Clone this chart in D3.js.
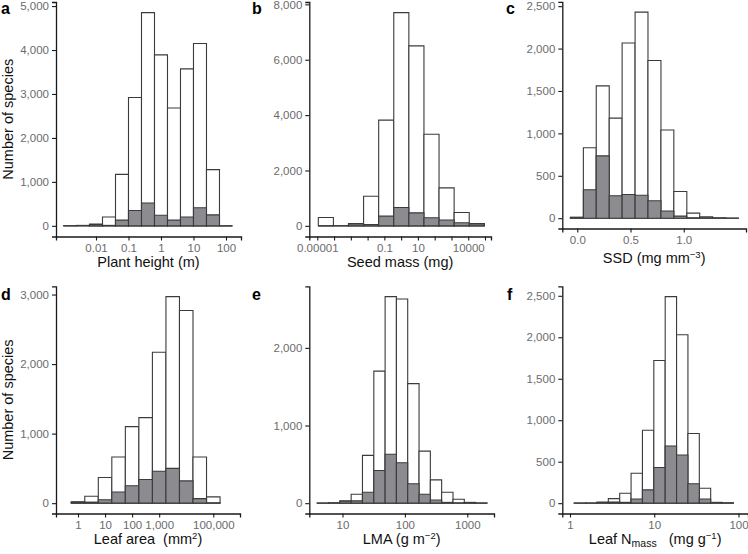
<!DOCTYPE html>
<html>
<head>
<meta charset="utf-8">
<script src="https://cdnjs.cloudflare.com/ajax/libs/d3/7.8.5/d3.min.js"></script>
<style>
  body { margin: 0; background: #fff; }
  svg { font-family: "Liberation Sans", Arial, Helvetica, sans-serif; }
  .tick-label { fill: #6b6b6b; font-size: 11.5px; }
  .axis-title { fill: #111; font-size: 14.5px; white-space: pre; }
  .panel-tag { fill: #000; font-weight: bold; font-size: 16px; }
  .bar-all { fill: #fff; stroke: #3b3b3b; stroke-width: 1.1; }
  .bar-sub { fill: #8c8c90; stroke: #3b3b3b; stroke-width: 1.1; }
</style>
</head>
<body>
<div id="chart"></div>
<script>
// histogram bin edges (log10 units on the log panels) and counts
// "all" = every species (white bars), "sub" = the subset (grey bars)
const heightEdges = [-3.0, -2.6, -2.2, -1.8, -1.4, -1.0, -0.6, -0.2, 0.2, 0.6, 1.0, 1.4, 1.8, 2.2];
const heightAll = [3, 10, 40, 200, 1170, 2920, 4850, 3890, 2680, 3570, 4150, 1280, 0];
const heightSub = [0, 5, 30, 10, 130, 350, 520, 240, 130, 200, 410, 250, 0];

const seedEdges = [-4.94, -4.04, -3.14, -2.24, -1.34, -0.44, 0.46, 1.36, 2.26, 3.16, 4.06, 4.96];
const seedAll = [300, 5, 80, 1070, 3820, 7700, 6500, 3310, 1370, 480, 80];
const seedSub = [0, 0, 70, 50, 350, 660, 470, 290, 210, 110, 70];

const ssdEdges = [-0.065, 0.057, 0.178, 0.300, 0.421, 0.543, 0.664, 0.786, 0.907, 1.029, 1.150, 1.272, 1.393, 1.515];
const ssdAll = [10, 830, 1560, 1180, 2065, 2430, 1860, 1040, 315, 60, 15, 5, 2];
const ssdSub = [10, 335, 735, 265, 280, 270, 205, 85, 25, 5, 3, 1, 0];

const areaEdges = [-0.25, 0.25, 0.75, 1.25, 1.75, 2.25, 2.75, 3.25, 3.75, 4.25, 4.75, 5.25];
const areaAll = [20, 100, 370, 665, 1100, 1230, 2170, 2970, 2770, 665, 90];
const areaSub = [15, 15, 50, 160, 250, 340, 460, 500, 320, 65, 5];

const lmaEdges = [0.595, 0.776, 0.958, 1.139, 1.320, 1.502, 1.683, 1.864, 2.045, 2.227, 2.408, 2.589, 2.771, 2.952, 3.133, 3.315];
const lmaAll = [2, 5, 30, 115, 615, 1700, 2660, 2630, 1540, 670, 300, 140, 50, 10, 3];
const lmaSub = [1, 3, 25, 30, 140, 420, 630, 520, 250, 115, 40, 10, 3, 2, 1];

const nmassEdges = [0.05, 0.185, 0.32, 0.455, 0.59, 0.725, 0.86, 0.995, 1.13, 1.265, 1.40, 1.535, 1.67, 1.805, 1.94];
const nmassAll = [2, 3, 15, 55, 120, 360, 880, 1720, 2490, 2030, 840, 180, 10, 5];
const nmassSub = [1, 1, 5, 15, 10, 50, 160, 430, 690, 580, 235, 50, 5, 2];

// axis ticks
const heightTicks = [0.01, 0.1, 1, 10, 100];
const heightLabels = ["0.01", "0.1", "1", "10", "100"];
const seedTicks = [1e-5, 1e-4, 1e-3, 1e-2, 1e-1, 1, 10, 100, 1e3, 1e4, 1e5];
const seedLabels = ["0.00001", "", "", "", "0.1", "", "10", "", "", "10000", ""];
const ssdTicks = [0, 0.5, 1.0];
const ssdLabels = ["0.0", "0.5", "1.0"];
const areaTicks = [1, 10, 100, 1000, 100000];
const areaLabels = ["1", "10", "100", "1,000", "100,000"];
const lmaTicks = [10, 100, 1000];
const lmaLabels = ["10", "100", "1000"];
const nmassTicks = [1, 10, 100];
const nmassLabels = ["1", "10", "100"];

const countTicksA = [0, 1000, 2000, 3000, 4000, 5000];
const countTicksB = [0, 2000, 4000, 6000, 8000];
const countTicksC = [0, 500, 1000, 1500, 2000, 2500];
const countTicksD = [0, 1000, 2000, 3000];
const countTicksE = [0, 1000, 2000];
const countTicksF = [0, 500, 1000, 1500, 2000, 2500];

let svg = d3.select("#chart").append("svg")
  .attr("width", 748)
  .attr("height", 554);

svg.append("rect").attr("width", "100%").attr("height", "100%").attr("fill", "white");

// panel boxes: x px extent, x view limits (log10 for log panels), y px extent
let panels = [
  { tag: "a", edges: heightEdges, all: heightAll, sub: heightSub, log: true,
    xpx: [56, 241], xlim: [-3.231, 2.462], ypx: [236.5, 2], tagx: 1, tagy: 14,
    xt: heightTicks, xl: heightLabels, yt: countTicksA, titleY: 267, ytitle: true },
  { tag: "b", edges: seedEdges, all: seedAll, sub: seedSub, log: true,
    xpx: [309.3, 491], xlim: [-5.477, 5.358], ypx: [236.5, 2], tagx: 252, tagy: 14,
    xt: seedTicks, xl: seedLabels, yt: countTicksB, titleY: 267 },
  { tag: "c", edges: ssdEdges, all: ssdAll, sub: ssdSub, log: false,
    xpx: [562.3, 746], xlim: [-0.141, 1.585], ypx: [228.5, 1.8], tagx: 506, tagy: 14,
    xt: ssdTicks, xl: ssdLabels, yt: countTicksC, titleY: 263 },
  { tag: "d", edges: areaEdges, all: areaAll, sub: areaSub, log: true,
    xpx: [56, 240], xlim: [-0.813, 5.987], ypx: [513.5, 286.3], tagx: 1, tagy: 300,
    xt: areaTicks, xl: areaLabels, yt: countTicksD, titleY: 544, ytitle: true },
  { tag: "e", edges: lmaEdges, all: lmaAll, sub: lmaSub, log: true,
    xpx: [309.3, 494], xlim: [0.468, 3.428], ypx: [513.5, 286.3], tagx: 252, tagy: 300,
    xt: lmaTicks, xl: lmaLabels, yt: countTicksE, titleY: 544 },
  { tag: "f", edges: nmassEdges, all: nmassAll, sub: nmassSub, log: true,
    xpx: [562.3, 748], xlim: [-0.0914, 2.113], ypx: [513.5, 286.3], tagx: 507, tagy: 300,
    xt: nmassTicks, xl: nmassLabels, yt: countTicksF, titleY: 544 }
];

function barPath(x0, x1, yBase, yTop) {
  return "M" + x0 + "," + yBase + "V" + yTop + "H" + x1 + "V" + yBase + "Z";
}

panels.forEach(function(p) {
  let x;
  if (p.log) {
    x = d3.scaleLog().domain([Math.pow(10, p.xlim[0]), Math.pow(10, p.xlim[1])]).range(p.xpx);
  } else {
    x = d3.scaleLinear().domain(p.xlim).range(p.xpx);
  }
  let edgeVal = function(e) { return p.log ? Math.pow(10, e) : e; };
  let M = d3.max(p.all);
  let y = d3.scaleLinear().domain([-0.05 * M, 1.05 * M]).range(p.ypx);

  let g = svg.append("g");
  let bins = p.all.map(function(v, i) {
    return { x0: edgeVal(p.edges[i]), x1: edgeVal(p.edges[i + 1]), all: v, sub: p.sub[i] };
  });

  g.selectAll(".bar-all")
    .data(bins)
    .enter().append("path")
      .attr("class", "bar-all")
      .attr("d", function(d) { return barPath(x(d.x0), x(d.x1), y(0), y(d.all)); });

  g.selectAll(".bar-sub")
    .data(bins)
    .enter().append("path")
      .attr("class", "bar-sub")
      .attr("d", function(d) { return barPath(x(d.x0), x(d.x1), y(0), y(d.sub)); });

  // axes
  let xa = g.append("g")
    .attr("transform", "translate(0," + p.ypx[0] + ")")
    .call(d3.axisBottom(x).tickValues(p.xt).tickSizeOuter(0).tickSize(4).tickPadding(3.4)
      .tickFormat(function(d, i) { return p.xl[i]; }));
  let ya = g.append("g")
    .attr("transform", "translate(" + p.xpx[0] + ",0)")
    .call(d3.axisLeft(y).tickValues(p.yt).tickSizeOuter(0).tickSize(4).tickPadding(3)
      .tickFormat(d3.format(",")));

  [xa, ya].forEach(function(a) {
    a.attr("font-family", null).attr("font-size", null);
    a.select(".domain").attr("stroke", "#1a1a1a").attr("stroke-width", 1.3);
    a.selectAll(".tick line").attr("stroke", "#1a1a1a").attr("stroke-width", 1.1);
    a.selectAll(".tick text").attr("class", "tick-label").attr("fill", null);
  });

  // panel letter
  svg.append("text")
    .attr("class", "panel-tag")
    .attr("x", p.tagx)
    .attr("y", p.tagy)
    .text(p.tag);

  if (p.ytitle) {
    let cy = (p.ypx[0] + p.ypx[1]) / 2;
    svg.append("text")
      .attr("class", "axis-title")
      .attr("text-anchor", "middle")
      .attr("transform", "translate(13," + cy + ")rotate(-90)")
      .text("Number of species");
  }

  p.titleX = (p.xpx[0] + p.xpx[1]) / 2;
});

// x axis titles (some with super/subscripts)
function axisTitle(p) {
  return svg.append("text")
    .attr("class", "axis-title")
    .attr("text-anchor", "middle")
    .attr("x", p.titleX)
    .attr("y", p.titleY);
}

axisTitle(panels[0]).text("Plant height (m)");
axisTitle(panels[1]).text("Seed mass (mg)");

let tc = axisTitle(panels[2]);
tc.append("tspan").text("SSD (mg mm");
tc.append("tspan").attr("font-size", "9.5px").attr("dy", "-5").text("\u22123");
tc.append("tspan").attr("dy", "5").text(")");

let td = axisTitle(panels[3]);
td.append("tspan").text("Leaf area  (mm");
td.append("tspan").attr("font-size", "9.5px").attr("dy", "-5").text("2");
td.append("tspan").attr("dy", "5").text(")");

let te = axisTitle(panels[4]);
te.append("tspan").text("LMA (g m");
te.append("tspan").attr("font-size", "9.5px").attr("dy", "-5").text("\u22122");
te.append("tspan").attr("dy", "5").text(")");

let tf = axisTitle(panels[5]);
tf.append("tspan").text("Leaf N");
tf.append("tspan").attr("font-size", "10.5px").attr("dy", "3").text("mass");
tf.append("tspan").attr("dy", "-3").text("   (mg g");
tf.append("tspan").attr("font-size", "9.5px").attr("dy", "-5").text("\u22121");
tf.append("tspan").attr("dy", "5").text(")");
</script>
</body>
</html>
